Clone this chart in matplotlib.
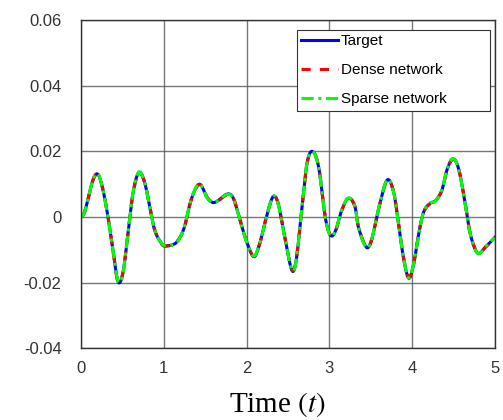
import numpy as np
import matplotlib
matplotlib.use('Agg')
import matplotlib.pyplot as plt
from matplotlib.patches import Rectangle

plt.rcParams['font.family'] = ['Liberation Sans', 'DejaVu Sans']
plt.rcParams['mathtext.fontset'] = 'stix'

# values
t = [0.0, 0.045, 0.145, 0.205, 0.266, 0.326, 0.386, 0.447, 0.507, 0.568,
     0.628, 0.70, 0.77, 0.83, 0.89, 0.97, 1.01, 1.13, 1.19, 1.25,
     1.33, 1.43, 1.53, 1.61, 1.77, 1.84, 1.92, 2.0, 2.09, 2.16,
     2.24, 2.32, 2.38, 2.46, 2.55, 2.60, 2.67, 2.73, 2.795, 2.87,
     2.95, 3.01, 3.07, 3.15, 3.23, 3.31, 3.35, 3.45, 3.51, 3.60,
     3.70, 3.78, 3.84, 3.90, 3.96, 4.02, 4.08, 4.14, 4.22, 4.28,
     4.36, 4.42, 4.49, 4.56, 4.64, 4.70, 4.79, 4.88, 5.0]

target = [0.0, 0.0016, 0.0113, 0.0130, 0.0082, 0.0, -0.0100, -0.0197, -0.0170, -0.0049,
          0.0073, 0.0136, 0.0104, 0.0031, -0.0040, -0.0080, -0.0088, -0.0082, -0.0065, -0.0030,
          0.0052, 0.0100, 0.0057, 0.0044, 0.0070, 0.0057, -0.0009, -0.0075, -0.0121, -0.0080,
          0.0, 0.0062, 0.0042, -0.0060, -0.0164, -0.0131, 0.0031, 0.0164, 0.0200, 0.0153,
          0.0, -0.0055, -0.0045, 0.0021, 0.0057, 0.0031, -0.0030, -0.0093, -0.0070, 0.0031,
          0.0113, 0.0072, -0.0030, -0.0131, -0.0187, -0.0141, -0.0050, 0.0016, 0.0042, 0.0049,
          0.0082, 0.0143, 0.0177, 0.0148, 0.0042, -0.0050, -0.0110, -0.0093, -0.0062]

dense = [0.0, 0.0015, 0.0112, 0.0129, 0.0083, 0.0001, -0.0099, -0.0199, -0.0169, -0.0048,
         0.0072, 0.0134, 0.0105, 0.0032, -0.0039, -0.0081, -0.0089, -0.0081, -0.0064, -0.0031,
         0.0051, 0.0099, 0.0058, 0.0043, 0.0068, 0.0058, -0.0008, -0.0074, -0.0120, -0.0081,
         0.0001, 0.0061, 0.0043, -0.0059, -0.0162, -0.0130, 0.0030, 0.0162, 0.0197, 0.0154,
         0.0001, -0.0054, -0.0046, 0.0020, 0.0056, 0.0032, -0.0029, -0.0092, -0.0071, 0.0030,
         0.0111, 0.0073, -0.0029, -0.0130, -0.0185, -0.0142, -0.0049, 0.0015, 0.0041, 0.0050,
         0.0081, 0.0142, 0.0175, 0.0149, 0.0043, -0.0049, -0.0109, -0.0094, -0.0061]

sparse = [0.0, 0.0016, 0.0114, 0.0131, 0.0082, -0.0001, -0.0101, -0.0196, -0.0171, -0.0050,
          0.0074, 0.0137, 0.0103, 0.0030, -0.0041, -0.0079, -0.0087, -0.0083, -0.0066, -0.0029,
          0.0053, 0.0101, 0.0056, 0.0045, 0.0069, 0.0056, -0.0010, -0.0076, -0.0119, -0.0079,
          -0.0001, 0.0063, 0.0041, -0.0061, -0.0163, -0.0132, 0.0032, 0.0165, 0.0199, 0.0152,
          -0.0001, -0.0056, -0.0044, 0.0022, 0.0058, 0.0030, -0.0031, -0.0094, -0.0069, 0.0032,
          0.0114, 0.0071, -0.0031, -0.0132, -0.0186, -0.0140, -0.0051, 0.0017, 0.0043, 0.0048,
          0.0083, 0.0144, 0.0178, 0.0147, 0.0041, -0.0051, -0.0111, -0.0092, -0.0063]

xticks = [0, 1, 2, 3, 4, 5]
yticks = [-0.04, -0.02, 0, 0.02, 0.04, 0.06]
ytick_labels = ['-0.04', '-0.02', '0', '0.02', '0.04', '0.06']


# smooth curve through the read points (cubic Hermite)
def smooth(x, y, n=600):
    x = np.asarray(x)
    y = np.asarray(y)
    xs = np.linspace(x[0], x[-1], n)
    out = np.empty_like(xs)
    for k, xv in enumerate(xs):
        i = np.searchsorted(x, xv) - 1
        i = min(max(i, 0), len(x) - 2)
        x0, x1 = x[i], x[i + 1]
        y0, y1 = y[i], y[i + 1]
        m0 = (y[i + 1] - y[i - 1]) / (x[i + 1] - x[i - 1]) if i > 0 else (y1 - y0) / (x1 - x0)
        m1 = (y[i + 2] - y[i]) / (x[i + 2] - x[i]) if i + 2 < len(x) else (y1 - y0) / (x1 - x0)
        h = x1 - x0
        s = (xv - x0) / h
        h00 = 2 * s**3 - 3 * s**2 + 1
        h10 = s**3 - 2 * s**2 + s
        h01 = -2 * s**3 + 3 * s**2
        h11 = s**3 - s**2
        out[k] = h00 * y0 + h10 * h * m0 + h01 * y1 + h11 * h * m1
    return xs, out


fig = plt.figure(figsize=(5.03, 4.20), dpi=100)
ax = fig.add_axes([0.161, 0.171, 0.823, 0.781])

ax.plot(*smooth(t, target), color='#0000ff', lw=2.2, label='Target')
ax.plot(*smooth(t, dense), color='#ff0000', lw=2.2, ls=(0, (3, 3)), label='Dense network')
ax.plot(*smooth(t, sparse), color='#00ff00', lw=2.2, ls=(0, (4, 1.5, 1, 1.5)), label='Sparse network')

ax.set_xlim(0, 5)
ax.set_ylim(-0.04, 0.06)
ax.set_xticks(xticks)
ax.set_xticklabels([str(v) for v in xticks])
ax.set_yticks(yticks)
ax.set_yticklabels(ytick_labels)
ax.tick_params(length=0, labelsize=12, colors='#333333')
ax.tick_params(axis='x', pad=9)
ax.tick_params(axis='y', pad=14)
ax.grid(True, color='#555555', lw=1, alpha=0.8)
for sp in ax.spines.values():
    sp.set_color('#333333')
    sp.set_linewidth(1)

ax.set_xlabel(r'Time $(\mathit{t})$', fontsize=21,
              family='Liberation Serif', va='baseline')
ax.xaxis.set_label_coords(0.4746, -0.196)

# MATLAB-style legend box, wider than its entries
ax.add_patch(Rectangle((0.521, 0.7226), 0.467, 0.2469, transform=ax.transAxes,
                       facecolor='white', edgecolor='#333333', lw=0.8, zorder=4.9))
leg = ax.legend(loc='upper left', bbox_to_anchor=(0.531, 0.957), fontsize=11,
                handlelength=2.45, handletextpad=0.15, labelspacing=0.98,
                frameon=False, borderpad=0, borderaxespad=0)
leg.set_zorder(5)

fig.savefig('out.png', dpi=100)
